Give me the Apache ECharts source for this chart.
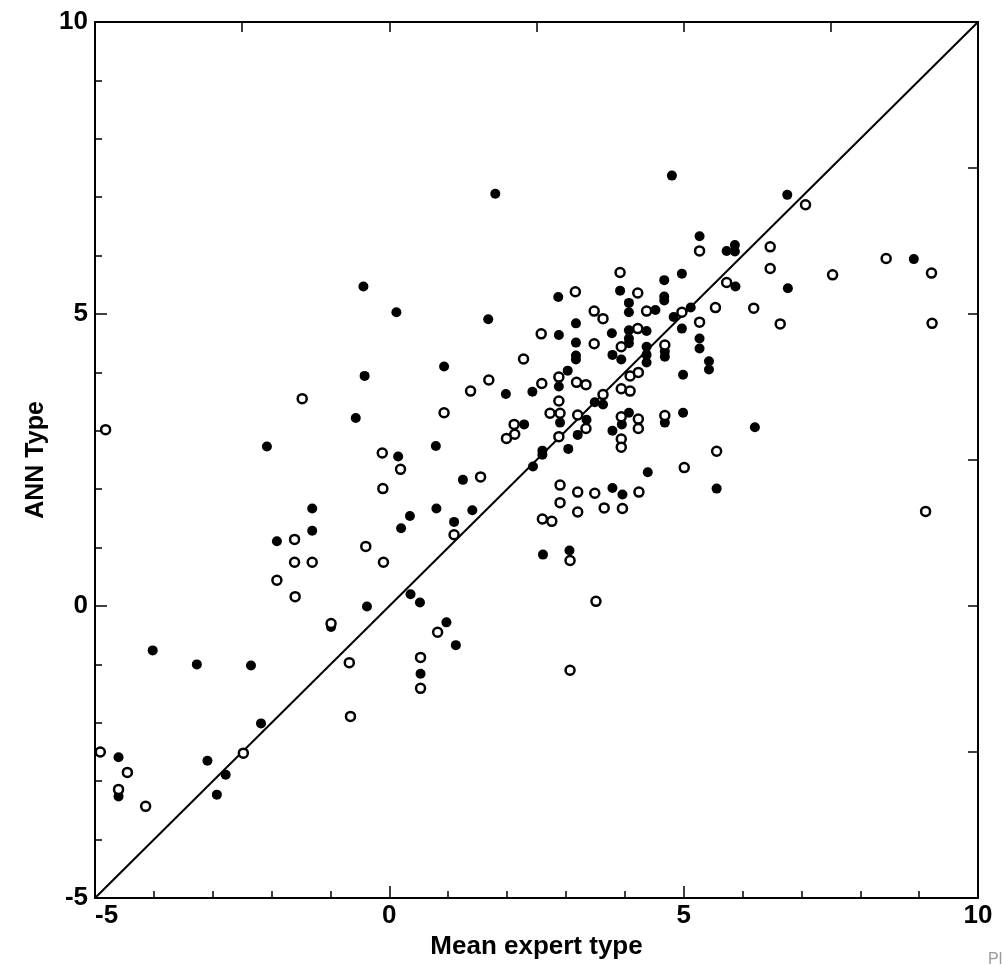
<!DOCTYPE html>
<html>
<head>
<meta charset="utf-8">
<script src="https://cdn.jsdelivr.net/npm/echarts@6/dist/echarts.min.js"></script>
<style>
html,body{margin:0;padding:0;background:#fff;}
#chart{width:1002px;height:965px;}
</style>
</head>
<body>
<div id="chart"></div>
<script>
// Filled circles: [Mean expert type, ANN Type]
const filledPoints = [
[-0.44,5.47],[0.12,5.03],[-0.42,3.94],[-0.57,3.22],[-2.08,2.73],[0.15,2.56],[-1.31,1.67],[-1.31,1.29],
[-1.91,1.11],[0.20,1.33],[0.35,1.54],[-0.38,-0.01],[-0.99,-0.36],[-4.02,-0.76],[-3.27,-1.00],[-2.35,-1.02],
[-2.18,-2.01],[-4.60,-2.59],[-3.09,-2.65],[-2.78,-2.89],[-4.60,-3.26],[-2.93,-3.23],[1.80,7.06],[1.68,4.91],
[0.93,4.10],[1.98,3.63],[2.29,3.11],[0.79,2.74],[1.25,2.16],[0.80,1.67],[1.41,1.64],[1.10,1.44],
[0.36,0.20],[0.52,0.06],[0.97,-0.28],[1.13,-0.67],[0.53,-1.16],[2.87,5.29],[3.17,4.84],[2.88,4.64],
[3.78,4.67],[3.17,4.51],[3.17,4.29],[3.17,4.22],[3.79,4.30],[3.03,4.03],[2.88,3.76],[2.43,3.67],
[3.49,3.49],[3.63,3.45],[2.90,3.14],[3.35,3.19],[3.20,2.93],[2.60,2.66],[2.60,2.59],[3.04,2.69],
[2.44,2.39],[3.79,3.00],[3.79,2.02],[2.61,0.88],[3.06,0.95],[4.97,5.69],[4.67,5.58],[3.92,5.40],
[4.67,5.30],[4.67,5.23],[4.07,5.19],[4.07,5.03],[4.52,5.07],[4.83,4.95],[5.12,5.11],[4.97,4.75],
[5.27,4.58],[5.27,4.41],[4.07,4.72],[4.07,4.58],[4.07,4.50],[4.37,4.71],[3.94,4.22],[4.37,4.44],
[4.37,4.30],[4.37,4.17],[4.68,4.36],[4.68,4.27],[5.43,4.19],[5.43,4.05],[4.99,3.96],[4.07,3.31],
[4.99,3.31],[3.95,3.11],[4.68,3.14],[4.39,2.29],[3.96,1.91],[5.56,2.01],[6.76,7.04],[5.27,6.33],
[5.73,6.08],[5.87,6.18],[5.87,6.07],[5.88,5.47],[6.77,5.44],[8.91,5.94],[6.21,3.06],[4.80,7.37]
];
// Open circles
const openPoints = [
[-1.48,3.55],[-4.82,3.02],[-0.12,2.62],[0.19,2.34],[-0.11,2.01],[-1.61,1.14],[-0.40,1.02],[-1.61,0.75],
[-1.31,0.75],[-0.10,0.75],[-1.91,0.44],[-1.60,0.16],[-0.99,-0.30],[-0.68,-0.97],[-0.66,-1.89],[-4.91,-2.50],
[-2.48,-2.52],[-4.45,-2.85],[-4.60,-3.14],[-4.14,-3.43],[2.28,4.23],[1.69,3.87],[1.38,3.68],[0.93,3.31],
[2.12,3.11],[2.13,2.94],[1.99,2.87],[1.55,2.21],[1.10,1.22],[0.82,-0.45],[0.53,-0.88],[0.53,-1.41],
[3.16,5.38],[3.48,5.05],[3.63,4.92],[2.58,4.66],[3.48,4.49],[2.88,3.92],[2.59,3.81],[3.18,3.83],
[3.34,3.79],[2.88,3.51],[3.63,3.62],[2.73,3.30],[2.90,3.30],[3.20,3.27],[3.34,3.04],[2.88,2.90],
[2.90,2.07],[2.90,1.77],[3.20,1.95],[3.49,1.93],[3.20,1.61],[3.65,1.68],[2.60,1.49],[2.76,1.45],
[3.07,0.78],[3.51,0.08],[3.07,-1.10],[3.92,5.71],[4.22,5.36],[4.37,5.05],[4.97,5.03],[5.54,5.11],
[5.27,4.86],[4.22,4.75],[3.94,4.44],[4.68,4.47],[4.09,3.94],[4.23,4.00],[3.94,3.72],[4.09,3.68],
[4.68,3.26],[3.94,3.24],[4.23,3.20],[4.23,3.04],[3.94,2.86],[3.94,2.72],[5.01,2.37],[4.24,1.95],
[3.96,1.67],[5.56,2.65],[7.07,6.87],[5.27,6.08],[6.47,6.15],[6.47,5.78],[5.73,5.54],[6.19,5.10],
[6.64,4.83],[7.53,5.67],[8.44,5.95],[9.21,5.70],[9.22,4.84],[9.11,1.62]
];
// Identity line
const diagonal = [[-5,-5],[10,10]];
const axisMin = -5, axisMax = 10;
const xTitle = 'Mean expert type';
const yTitle = 'ANN Type';
const cornerText = 'Pl';

const font = '"Liberation Sans", Arial, Helvetica, sans-serif';
const narrow = '"Liberation Sans Narrow", "Liberation Sans", Arial, sans-serif';
const chart = echarts.init(document.getElementById('chart'), null, {renderer:'canvas'});
const lineStyle = {color:'#000', width:2};
chart.setOption({
  backgroundColor:'#fff',
  animation:false,
  grid:{left:95, right:24, top:22, bottom:60},
  xAxis:[{
    type:'value', min:axisMin, max:axisMax, interval:5, position:'bottom',
    axisLine:{show:true, onZero:false, lineStyle:lineStyle},
    axisTick:{show:true, inside:true, length:12, lineStyle:{color:'#000', width:1.5}},
    minorTick:{show:true, splitNumber:5, length:7, lineStyle:{color:'#000', width:1.5}},
    splitLine:{show:false},
    axisLabel:{color:'#000', fontSize:26, fontWeight:'bold', fontFamily:font, margin:5, alignMinLabel:'left'},
    name:xTitle, nameLocation:'middle', nameGap:36,
    nameTextStyle:{color:'#000', fontSize:26, fontWeight:'bold', fontFamily:narrow}
  },{
    type:'value', min:axisMin, max:axisMax, interval:2.5, position:'top',
    axisLine:{show:true, onZero:false, lineStyle:lineStyle},
    axisTick:{show:true, inside:true, length:10, lineStyle:{color:'#000', width:1.5}},
    splitLine:{show:false}, axisLabel:{show:false}
  }],
  yAxis:[{
    type:'value', min:axisMin, max:axisMax, interval:5, position:'left',
    axisLine:{show:true, onZero:false, lineStyle:lineStyle},
    axisTick:{show:true, inside:true, length:12, lineStyle:{color:'#000', width:1.5}},
    minorTick:{show:true, splitNumber:5, length:7, lineStyle:{color:'#000', width:1.5}},
    splitLine:{show:false},
    axisLabel:{color:'#000', fontSize:26, fontWeight:'bold', fontFamily:font, margin:7},
    name:yTitle, nameLocation:'middle', nameGap:43, nameRotate:90,
    nameTextStyle:{color:'#000', fontSize:25, fontWeight:'bold', fontFamily:narrow}
  },{
    type:'value', min:axisMin, max:axisMax, interval:2.5, position:'right',
    axisLine:{show:true, onZero:false, lineStyle:lineStyle},
    axisTick:{show:true, inside:true, length:10, lineStyle:{color:'#000', width:1.5}},
    splitLine:{show:false}, axisLabel:{show:false}
  }],
  graphic:[{
    type:'text', left:988, top:952,
    style:{text:cornerText, fill:'#9a9a9a', font:'16px "Liberation Sans", Arial, sans-serif'}
  }],
  series:[{
    type:'line', data:diagonal, xAxisIndex:0, yAxisIndex:0, symbol:'none',
    lineStyle:{color:'#000', width:2}, z:1, silent:true
  },{
    type:'scatter', data:filledPoints, xAxisIndex:0, yAxisIndex:0, symbol:'circle', symbolSize:10,
    itemStyle:{color:'#000', opacity:1}, z:3
  },{
    type:'scatter', data:openPoints, xAxisIndex:0, yAxisIndex:0, symbol:'circle', symbolSize:9,
    itemStyle:{color:'#fff', borderColor:'#000', borderWidth:2.5, opacity:1}, z:4
  }]
});
</script>
</body>
</html>
